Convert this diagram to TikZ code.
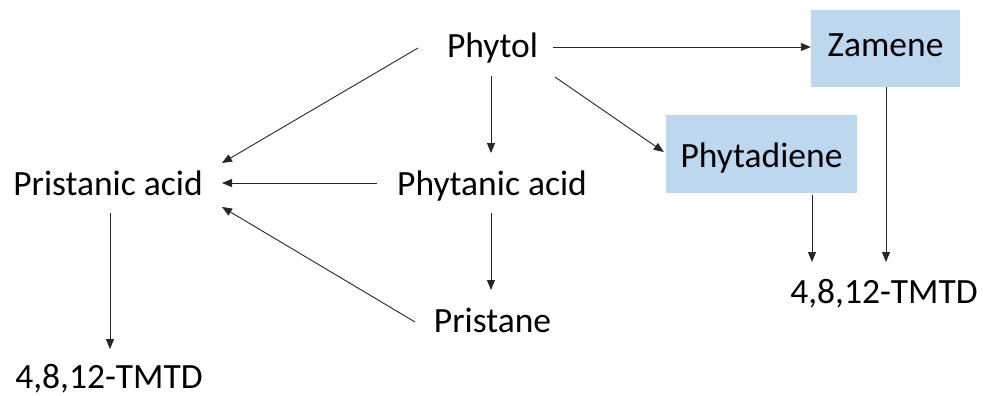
\documentclass[tikz,border=0pt]{standalone}
\usepackage{fontspec}
\setmainfont{Carlito}
\usetikzlibrary{arrows.meta,calc}
\definecolor{boxblue}{HTML}{BDD7EE}
\begin{document}
\begin{tikzpicture}[x=1pt,y=-1pt,
  lbl/.style={font=\fontsize{35.5}{42}\selectfont, inner sep=0pt, text=black, anchor=base},
  bluebox/.style={font=\fontsize{35.5}{42}\selectfont, inner sep=0pt, text=black, fill=boxblue, draw=none, text depth=4pt},
  conn/.style={draw=black!85, line width=0.9pt, -{Triangle[length=10pt,width=8pt]}}]
\useasboundingbox (0,0) rectangle (983,396);
\node[lbl] (phytol) at (492.5,58) {Phytol};
\node[bluebox, minimum width=149pt, minimum height=77pt, text height=21pt] (zamene) at (885.5,48.5) {Zamene};
\node[bluebox, minimum width=191pt, minimum height=78pt, text height=30pt] (phytadiene) at (761.5,154) {Phytadiene};
\node[lbl] (pristanic) at (108,195) {Pristanic acid};
\node[lbl] (phytanic) at (492,195) {Phytanic acid};
\node[lbl] (pristane) at (492.5,332) {Pristane};
\node[lbl] (tmtdL) at (109,388) {4,8,12-TMTD};
\node[lbl] (tmtdR) at (884,303) {4,8,12-TMTD};

\draw[conn] ($(phytol.base)+(60.5,-11)$) coordinate (s1) -- (zamene.west |- s1);
\draw[conn] ($(phytol.base)+(-1.5,18)$) -- ($(phytanic.base)+(-1,-42)$);
\draw[conn] ($(phytol.base)+(62.5,19)$) -- ($(phytadiene.west)+(-2,-2)$);
\draw[conn] ($(phytol.base)+(-74.5,-10)$) -- ($(pristanic.base)+(114,-32)$);
\draw[conn] ($(phytanic.base)+(-115,-12)$) -- ($(pristanic.base)+(114,-12)$);
\draw[conn] ($(pristane.base)+(-77.5,-10)$) -- ($(pristanic.base)+(114,12)$);
\draw[conn] ($(pristanic.base)+(2,18)$) -- ($(tmtdL.base)+(1,-39)$);
\draw[conn] ($(phytanic.base)+(-1,18)$) -- ($(pristane.base)+(-1.5,-42)$);
\draw[conn] ($(phytadiene.south)+(50.5,2)$) -- ($(tmtdR.base)+(-72,-41)$);
\draw[conn] ($(zamene.south)+(0.5,0)$) -- ($(tmtdR.base)+(2,-41)$);
\end{tikzpicture}
\end{document}
